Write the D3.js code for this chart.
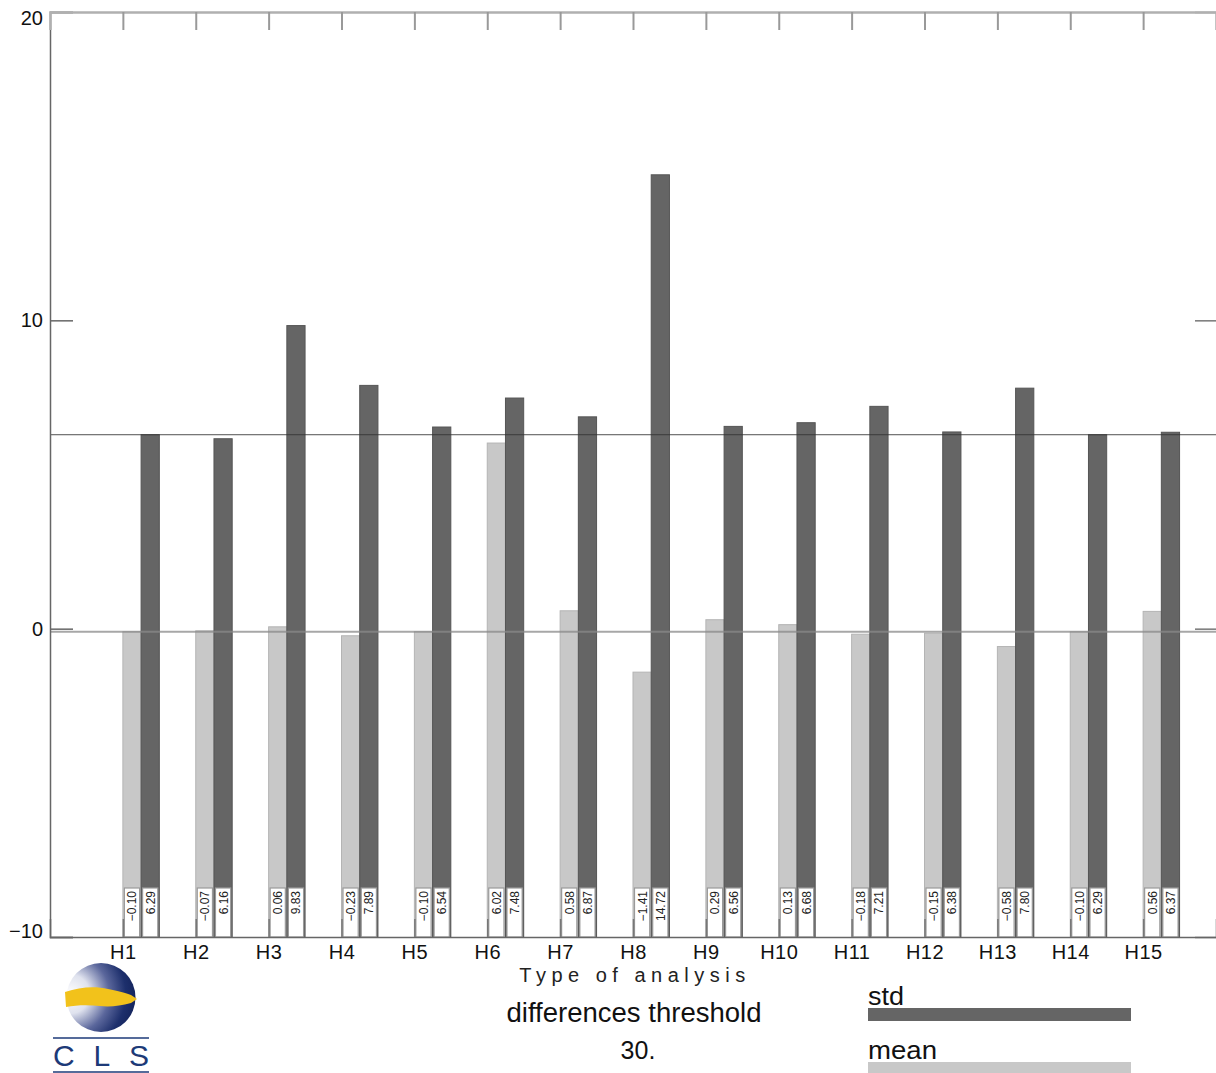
<!DOCTYPE html>
<html>
<head>
<meta charset="utf-8">
<script src="https://cdn.jsdelivr.net/npm/d3@7"></script>
<style>
  html, body { margin: 0; padding: 0; background: #fff; }
  svg { display: block; }
  text { font-family: "Liberation Sans", Arial, sans-serif; }
</style>
</head>
<body>
<svg id="chart" width="1216" height="1073"></svg>
<script>
// Analysis types along the x axis
const categories = ["H1","H2","H3","H4","H5","H6","H7","H8","H9","H10","H11","H12","H13","H14","H15"];
// Mean and standard deviation of the differences for each analysis
const meanValues = [-0.10,-0.07,0.06,-0.23,-0.10,6.02,0.58,-1.41,0.29,0.13,-0.18,-0.15,-0.58,-0.10,0.56];
const stdValues  = [6.29,6.16,9.83,7.89,6.54,7.48,6.87,14.72,6.56,6.68,7.21,6.38,7.80,6.29,6.37];
// Y axis tick values
const yTicks = [-10, 0, 10, 20];
// Threshold shown under the axis title
const thresholdLabel = "30.";

const svg = d3.select("#chart");
const plotLeft = 50, plotRight = 1216, plotTop = 12, plotBottom = 937;

const x = d3.scaleLinear().domain([0, categories.length + 1]).range([plotLeft, plotRight]);
const y = d3.scaleLinear().domain([-10, 20]).range([plotBottom, plotTop]);
const barW = x(0.25) - x(0);
const fmt = d3.format(".2f");

const meanColor = "#c8c8c8", stdColor = "#656565";

// Bars rise from the bottom of the plot to their value
const groups = svg.append("g").selectAll("g")
  .data(categories.map((c, i) => ({c, i, mean: meanValues[i], std: stdValues[i]})))
  .join("g");

groups.append("rect")
  .attr("x", d => x(d.i + 1))
  .attr("width", barW)
  .attr("y", d => y(d.mean))
  .attr("height", d => y(-10) - y(d.mean))
  .attr("fill", meanColor)
  .attr("stroke", "#b4b4b4").attr("stroke-width", 1);

groups.append("rect")
  .attr("x", d => x(d.i + 1) + barW)
  .attr("width", barW)
  .attr("y", d => y(d.std))
  .attr("height", d => y(-10) - y(d.std))
  .attr("fill", stdColor)
  .attr("stroke", "#555").attr("stroke-width", 1);

// Reference lines at the first analysis' mean and std
svg.append("line")
  .attr("x1", plotLeft).attr("x2", plotRight)
  .attr("y1", y(meanValues[0])).attr("y2", y(meanValues[0]))
  .attr("stroke", "#8a8a8a").attr("stroke-opacity", 0.75).attr("stroke-width", 2);
svg.append("line")
  .attr("x1", plotLeft).attr("x2", plotRight)
  .attr("y1", y(stdValues[0])).attr("y2", y(stdValues[0]))
  .attr("stroke", "#333").attr("stroke-opacity", 0.85).attr("stroke-width", 1);

// Value labels in white boxes at the foot of each bar
const boxH = 49;
function valueBox(sel, dx, key) {
  sel.append("rect")
    .attr("x", d => x(d.i + 1) + dx + 1.5)
    .attr("width", barW - 3)
    .attr("y", y(-10) - boxH)
    .attr("height", boxH)
    .attr("fill", "#fff")
    .attr("stroke", "#9a9a9a").attr("stroke-width", 1.2);
  sel.append("text")
    .attr("transform", d => `translate(${x(d.i + 1) + dx + barW / 2 + 4.5},${y(-10) - boxH + 3}) rotate(-90)`)
    .attr("text-anchor", "end")
    .attr("font-size", 12)
    .attr("fill", "#222")
    .text(d => fmt(d[key]).replace("-", "\u2212"));
}
valueBox(groups, 0, "mean");
valueBox(groups, barW, "std");

// Axes
const catTicks = d3.range(1, categories.length + 1);

const leftAxis = svg.append("g").attr("transform", `translate(${plotLeft},0)`)
  .call(d3.axisLeft(y).tickValues(yTicks).tickSize(-23).tickPadding(30).tickFormat(d3.format("d")));
leftAxis.select(".domain").attr("stroke", "#666").attr("stroke-width", 1.5);
leftAxis.selectAll(".tick line").attr("stroke", "#666").attr("stroke-width", 1.5);
leftAxis.selectAll(".tick text").attr("font-size", 20).attr("fill", "#111")
  .attr("x", -7).attr("font-family", "Liberation Sans, Arial, sans-serif")
  // the end labels sit just inside the plot frame
  .attr("y", d => d === 20 ? 6 : d === -10 ? -6 : 0);

const rightAxis = svg.append("g").attr("transform", `translate(${plotRight},0)`)
  .call(d3.axisRight(y).tickValues(yTicks).tickSize(-21).tickFormat(""));
rightAxis.select(".domain").remove();
rightAxis.selectAll(".tick line").attr("stroke", "#777").attr("stroke-width", 1.5);

const topAxis = svg.append("g").attr("transform", `translate(0,${plotTop})`)
  .call(d3.axisTop(x).tickValues(catTicks).tickSize(-18).tickFormat(""));
topAxis.select(".domain").attr("stroke", "#b0b0b0").attr("stroke-width", 2.5);
topAxis.selectAll(".tick line").attr("stroke", "#999").attr("stroke-width", 2);

const bottomAxis = svg.append("g").attr("transform", `translate(0,${plotBottom})`)
  .call(d3.axisBottom(x).tickValues(catTicks).tickSize(-18)
    .tickFormat(d => categories[d - 1]));
bottomAxis.select(".domain").attr("stroke", "#666").attr("stroke-width", 1.5);
bottomAxis.selectAll(".tick line").attr("stroke", "#777").attr("stroke-width", 1.5);
bottomAxis.selectAll(".tick text").attr("font-size", 20).attr("fill", "#111")
  .attr("y", 22).attr("dy", 0).attr("letter-spacing", 0.5)
  .attr("font-family", "Liberation Sans, Arial, sans-serif");

// Titles
svg.append("text").attr("x", 635).attr("y", 982).attr("text-anchor", "middle")
  .attr("font-size", 20).attr("letter-spacing", 5.5).attr("fill", "#222")
  .text("Type of analysis");
svg.append("text").attr("x", 634).attr("y", 1022).attr("text-anchor", "middle")
  .attr("font-size", 27).attr("textLength", 255).attr("lengthAdjust", "spacingAndGlyphs")
  .attr("fill", "#111").text("differences threshold");
svg.append("text").attr("x", 638).attr("y", 1059).attr("text-anchor", "middle")
  .attr("font-size", 25).attr("fill", "#111").text(thresholdLabel);

// Legend
const legend = [{name: "std", color: stdColor, y: 1008}, {name: "mean", color: meanColor, y: 1062}];
const lg = svg.append("g").selectAll("g").data(legend).join("g");
lg.append("text").attr("x", 868).attr("y", d => d.y - 3)
  .attr("font-size", 25).attr("textLength", d => d.name === "std" ? 36 : 69)
  .attr("lengthAdjust", "spacingAndGlyphs").attr("fill", "#111").text(d => d.name);
lg.append("rect").attr("x", 868).attr("width", 263).attr("y", d => d.y).attr("height", 13)
  .attr("fill", d => d.color);

// CLS logo
const logo = svg.append("g");
const defs = svg.append("defs");
const grad = defs.append("radialGradient").attr("id", "globe")
  .attr("cx", "0.05").attr("cy", "0.45").attr("r", "0.95").attr("fx", "0.05").attr("fy", "0.45");
grad.append("stop").attr("offset", "0").attr("stop-color", "#ffffff");
grad.append("stop").attr("offset", "0.3").attr("stop-color", "#dfe2ee");
grad.append("stop").attr("offset", "0.6").attr("stop-color", "#5b679c");
grad.append("stop").attr("offset", "0.85").attr("stop-color", "#1d2f6c");
grad.append("stop").attr("offset", "1").attr("stop-color", "#15255e");
logo.append("circle").attr("cx", 101).attr("cy", 997.5).attr("r", 34.5).attr("fill", "url(#globe)");
logo.append("path")
  .attr("d", "M65,992 C80,987 95,986 108,989 C118,991 126,993 131,995 L137,999 L131,1003 C120,1006 110,1007 100,1006 C88,1005 77,1005 66,1007 Z")
  .attr("fill", "#f2c21b");
logo.append("line").attr("x1", 53).attr("x2", 149).attr("y1", 1038).attr("y2", 1038)
  .attr("stroke", "#1d3a78").attr("stroke-width", 1.5);
logo.append("line").attr("x1", 53).attr("x2", 149).attr("y1", 1072).attr("y2", 1072)
  .attr("stroke", "#1d3a78").attr("stroke-width", 1.5);
logo.append("text").attr("x", 101).attr("y", 1066).attr("text-anchor", "middle")
  .attr("font-family", "DejaVu Sans, sans-serif").attr("font-size", 30)
  .attr("textLength", 96).attr("lengthAdjust", "spacing")
  .attr("fill", "#1d3a78").text("CLS");
</script>
</body>
</html>
